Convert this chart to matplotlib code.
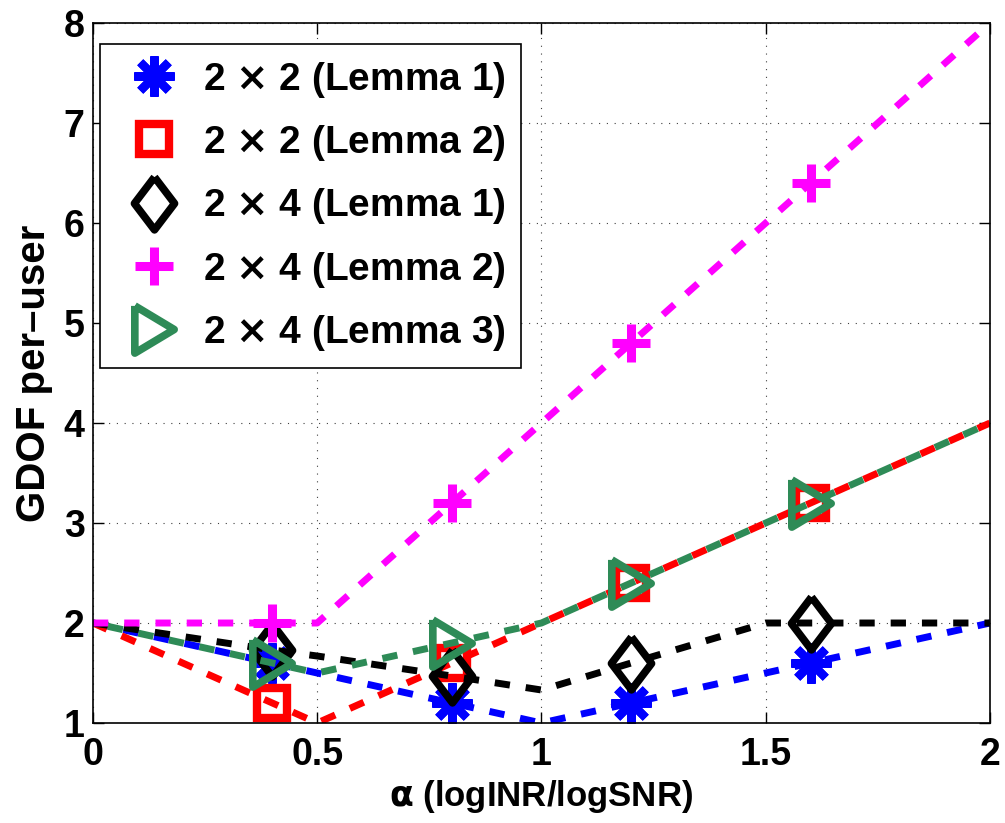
import matplotlib
matplotlib.use("Agg")
import numpy as np
import matplotlib.pyplot as plt
from matplotlib.lines import Line2D

# alpha breakpoints (markers sit at 0.4, 0.8, 1.2, 1.6)
alpha = [0.0, 0.4, 0.5, 0.8, 1.0, 1.2, 1.5, 1.6, 2.0]
gdof_22_lemma1 = [2.0, 1.6, 1.5, 1.2, 1.0, 1.2, 1.5, 1.6, 2.0]
gdof_22_lemma2 = [2.0, 1.2, 1.0, 1.6, 2.0, 2.4, 3.0, 3.2, 4.0]
gdof_24_lemma1 = [2.0, 1.73, 1.67, 1.47, 1.33, 1.6, 2.0, 2.0, 2.0]
gdof_24_lemma2 = [2.0, 2.0, 2.0, 3.2, 4.0, 4.8, 6.0, 6.4, 8.0]
gdof_24_lemma3 = [2.0, 1.6, 1.5, 1.8, 2.0, 2.4, 3.0, 3.2, 4.0]
marker_idx = [1, 3, 5, 7]

labels = ["2 $\\times$ 2 (Lemma 1)", "2 $\\times$ 2 (Lemma 2)",
          "2 $\\times$ 4 (Lemma 1)", "2 $\\times$ 4 (Lemma 2)",
          "2 $\\times$ 4 (Lemma 3)"]
xticks = [0, 0.5, 1, 1.5, 2]
xticklabels = ["0", "0.5", "1", "1.5", "2"]
yticks = [1, 2, 3, 4, 5, 6, 7, 8]

plt.rcParams["font.family"] = ["Liberation Sans", "DejaVu Sans"]
plt.rcParams["font.weight"] = "bold"
plt.rcParams["mathtext.fontset"] = "dejavusans"

diamond = [(0, 1), (0.76, 0), (0, -1), (-0.76, 0), (0, 1)]
tri_right = [(-1, 1.2), (1, 0), (-1, -1.2), (-1, 1.2)]

LW = 5
DASH = (2.2, 2.3)

styles = [
    dict(color="#0000ff", marker=(8, 2, 0), ms=29, mew=6),
    dict(color="#ff0000", marker="s", ms=22, mew=6),
    dict(color="#000000", marker=diamond, ms=38, mew=5.5),
    dict(color="#ff00ff", marker="+", ms=28, mew=6.5),
    dict(color="#2e8b57", marker=tri_right, ms=34, mew=5.5),
]
series = [gdof_22_lemma1, gdof_22_lemma2, gdof_24_lemma1, gdof_24_lemma2, gdof_24_lemma3]


def path_len_pts(ax, xs, ys, upto):
    # length of the drawn path (in points) up to vertex index upto
    pts = ax.transData.transform(np.column_stack([xs[:upto + 1], ys[:upto + 1]]))
    return np.hypot(*np.diff(pts, axis=0).T).sum() * 72.0 / ax.figure.dpi


def main():
    fig = plt.figure(figsize=(10.05, 8.23), dpi=100)
    ax = fig.add_axes([0.0925, 0.1215, 0.8925, 0.8505])
    ax.set_xlim(0, 2)
    ax.set_ylim(1, 8)

    # shift the green dashes half a period against the red ones where they overlap
    period = (DASH[0] + DASH[1]) * LW
    i1 = alpha.index(1.0)
    off = (path_len_pts(ax, alpha, gdof_22_lemma2, i1)
           - path_len_pts(ax, alpha, gdof_24_lemma3, i1) + period / 2) % period
    offsets = [0, 0, 0, 0, off / LW]

    handles = []
    for ys, st, lab, o in zip(series, styles, labels, offsets):
        ax.plot(alpha, ys, color=st["color"], lw=LW, linestyle=(o, DASH),
                marker=st["marker"], markevery=marker_idx, ms=st["ms"],
                mew=st["mew"], mec=st["color"], mfc="none")
        handles.append(Line2D([], [], linestyle="none", marker=st["marker"],
                              ms=st["ms"], mew=st["mew"], mec=st["color"],
                              mfc="none", label=lab))

    ax.set_xticks(xticks)
    ax.set_xticklabels(xticklabels)
    ax.set_yticks(yticks)
    ax.tick_params(direction="in", length=8, width=1, top=True, right=True,
                   labelsize=27)
    ax.tick_params(axis="x", pad=10)
    ax.tick_params(axis="y", pad=6)
    for sp in ax.spines.values():
        sp.set_linewidth(1.2)
    ax.grid(True, color="0.25", linestyle=(0, (1, 6)), linewidth=0.8)

    ax.set_xlabel("$\\mathrm{\\alpha}$ (logINR/logSNR)", fontsize=25,
                  fontweight="bold", labelpad=4)
    ax.set_ylabel("GDOF per\u2013user", fontsize=29, fontweight="bold", labelpad=8)

    leg = ax.legend(handles=handles, loc="upper left", bbox_to_anchor=(0.0078, 0.97),
                    borderaxespad=0, fontsize=28, handlelength=2.0, handletextpad=0.25,
                    borderpad=0.4, labelspacing=0.6, fancybox=False, framealpha=1)
    leg.get_frame().set_edgecolor("black")
    leg.get_frame().set_linewidth(1.2)

    fig.savefig("out.png", dpi=100)


if __name__ == "__main__":
    main()
